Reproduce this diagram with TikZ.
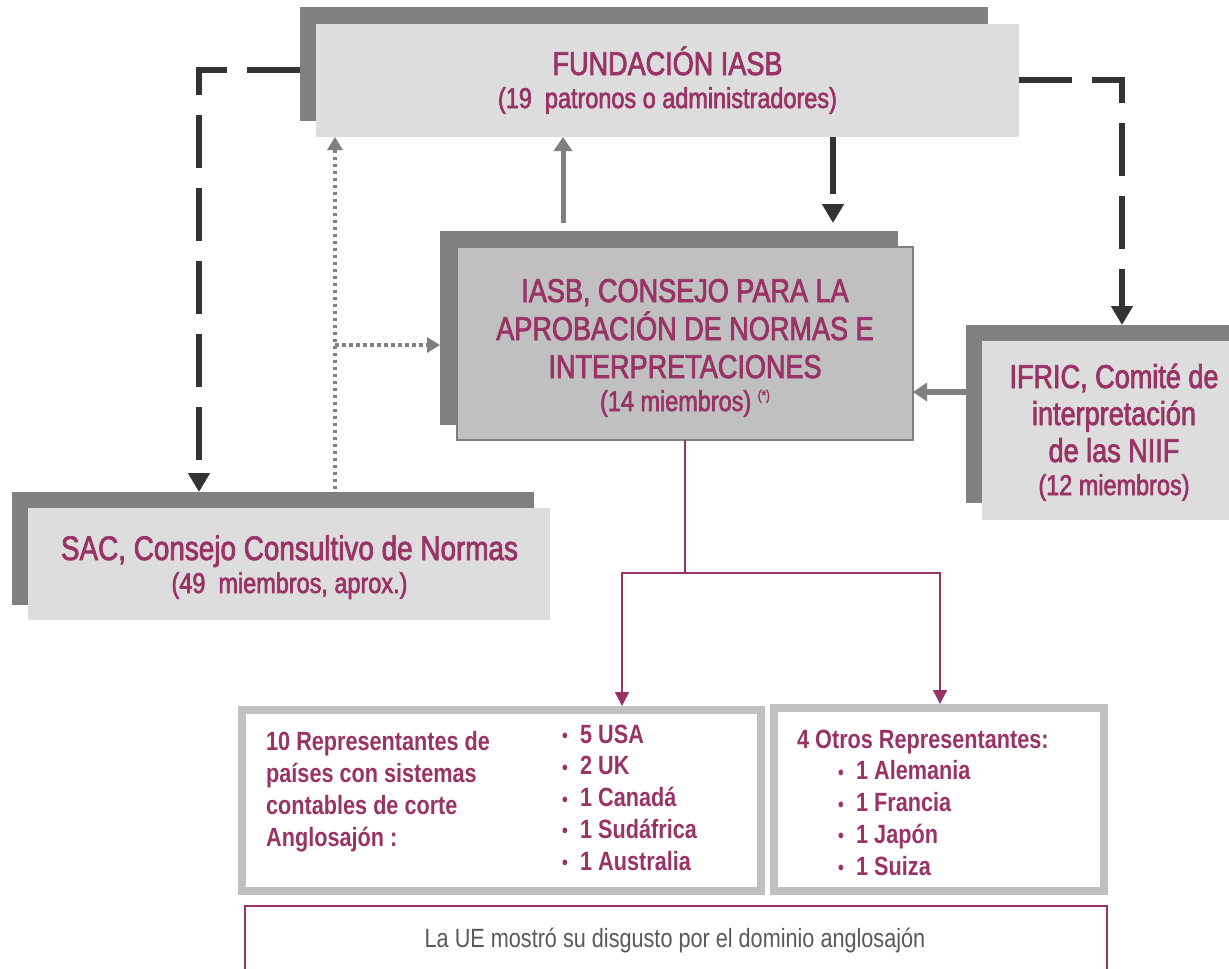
\documentclass[tikz,border=0pt]{standalone}
\usepackage{fontspec}
\setmainfont{Liberation Sans}[FakeStretch=0.82]
\newfontfamily\regfont{Liberation Sans}[FakeStretch=0.82, FakeBold=2.2]
\usetikzlibrary{arrows.meta,calc}
\definecolor{plum}{HTML}{993366}
\definecolor{shadowgray}{HTML}{808080}
\definecolor{lightbox}{HTML}{DDDDDD}
\definecolor{midbox}{HTML}{C0C0C0}
\definecolor{darkline}{HTML}{333333}
\definecolor{notegray}{HTML}{595959}
\newcommand\subsize{\fontsize{28.6}{33}\selectfont}
\newcommand\blt{\makebox[18pt][l]{\fontsize{20}{20}\selectfont\raisebox{0.5pt}{•}}}
\begin{document}
\begin{tikzpicture}[x=1pt,y=-1pt,
  shadowrect/.style={fill=shadowgray, draw=none, inner sep=0pt, outer sep=0pt, anchor=north west},
  lightrect/.style={fill=lightbox, draw=none, inner sep=0pt, outer sep=0pt, anchor=north west},
  midrect/.style={lightrect, fill=midbox, draw=shadowgray, line width=2.5pt},
  boxtext/.style={text=plum, align=center, inner sep=0pt, anchor=base},
  repbox/.style={draw=midbox, fill=white, line width=8pt, inner sep=0pt, outer sep=4pt},
  notebox/.style={draw=plum, fill=white, line width=2.5pt, inner sep=0pt, outer sep=0pt, anchor=north west},
  bigdash/.style={draw=darkline, line width=6pt, dash pattern=on 53pt off 20pt, -{Triangle[width=21pt,length=19pt]}},
  grayarrow/.style={draw=shadowgray, line width=5pt, -{Triangle[width=18pt,length=14pt]}},
  dotarrow/.style={draw=shadowgray, line width=3.5pt, dash pattern=on 3.5pt off 3.5pt, -{Triangle[width=15pt,length=13pt]}},
  plumarrow/.style={draw=plum, line width=1.5pt, -{Triangle[width=14pt,length=14pt]}},
  plumline/.style={draw=plum, line width=1.5pt},
  listtext/.style={text=plum, font=\bfseries\fontsize{26.4}{31.7}\selectfont, align=left, inner sep=0pt, anchor=base west}
]
\useasboundingbox (0,0) rectangle (1229,969);
\clip (0,0) rectangle (1229,969);
\fill[white] (0,0) rectangle (1229,969);

% FUNDACION
\node[shadowrect, minimum width=688pt, minimum height=114pt] (fundS) at (300,7) {};
\node[lightrect, minimum width=703pt, minimum height=113pt] (fund) at (316,24) {};
\node[boxtext, font=\regfont\fontsize{33}{33}\selectfont] (fundtext) at (667.5,108)
  {FUNDACIÓN IASB\\{\subsize (19~~patronos o administradores)}};

% IASB
\node[shadowrect, minimum width=458pt, minimum height=194pt] (iasbS) at (440,231) {};
\node[midrect, minimum width=456pt, minimum height=193pt] (iasb) at (457,247) {};
\node[boxtext, font=\regfont\fontsize{33}{38}\selectfont] (iasbtext) at (685,411)
  {IASB, CONSEJO PARA LA\\APROBACIÓN DE NORMAS E\\INTERPRETACIONES\\[-5pt]
   {\subsize (14 miembros) {\fontsize{14}{14}\selectfont\raisebox{11pt}{(*)}}}};

% IFRIC
\node[shadowrect, minimum width=270pt, minimum height=178pt] (ifricS) at (966,325) {};
\node[lightrect, minimum width=260pt, minimum height=179pt] (ifric) at (982,341) {};
\node[boxtext, font=\regfont\fontsize{33}{37}\selectfont] (ifrictext) at (1114,495)
  {IFRIC, Comité de\\interpretación\\de las NIIF\\[-4pt]{\subsize (12 miembros)}};

% SAC
\node[shadowrect, minimum width=522pt, minimum height=113pt] (sacS) at (12,492) {};
\node[lightrect, minimum width=522pt, minimum height=112pt] (sac) at (28,508) {};
\node[boxtext, font=\regfont\fontsize{33}{33}\selectfont] (sactext) at (289.5,593)
  {{\fontsize{34}{33}\selectfont SAC, Consejo Consultivo de Normas}\\{\subsize (49~~miembros, aprox.)}};

% connectors
\coordinate (lcorner) at (199,70);
\coordinate (rcorner) at (1122,80);
\draw[bigdash] (fundS.west |- lcorner) -- (lcorner) -- (lcorner |- sacS.north);
\draw[bigdash] (fund.east |- rcorner) -- (rcorner) -- (rcorner |- ifricS.north);
\coordinate (dcol) at (833,0);
\draw[bigdash, dash pattern=on 57pt off 30pt, shorten >=8pt] (fund.south -| dcol) -- (iasbS.north -| dcol);
\coordinate (gcol) at (563,0);
\draw[grayarrow, shorten <=8pt] (iasbS.north -| gcol) -- (fund.south -| gcol);
\coordinate (dotcol) at (335,0);
\coordinate (dotj) at (335,345);
\draw[dotarrow, shorten <=3pt] (sacS.north -| dotcol) -- (fund.south -| dotcol);
\draw[dotarrow] (dotj) -- (iasbS.west |- dotj);
\coordinate (irow) at (0,392);
\draw[grayarrow, line width=6pt] (ifricS.west |- irow) -- (iasb.east |- irow);

% representatives
\node[repbox, minimum width=519pt, minimum height=181pt] (anglo) at (501.5,800.5) {};
\node[repbox, minimum width=330pt, minimum height=183pt] (otros) at (939,799.5) {};
\coordinate (pjoin) at (685,573);
\coordinate (pl) at (622,573);
\coordinate (pr) at (940,573);
\draw[plumline] (iasb.south -| pjoin) -- (pjoin);
\draw[plumarrow] (pjoin) -- (pl) -- (pl |- anglo.north);
\draw[plumarrow] (pjoin) -- (pr) -- (pr |- otros.north);

\node[listtext] (anglotext) at (266,846) {10 Representantes de\\países con sistemas\\contables de corte\\Anglosajón :};
\node[listtext] (anglolist) at (562,870) {\blt 5 USA\\\blt 2 UK\\\blt 1 Canadá\\\blt 1 Sudáfrica\\\blt 1 Australia};
\node[listtext] (otrostext) at (797,748) {4 Otros Representantes:};
\node[listtext] (otroslist) at (838,875) {\blt 1 Alemania\\\blt 1 Francia\\\blt 1 Japón\\\blt 1 Suiza};

% note
\node[notebox, minimum width=862pt, minimum height=100pt] (ue) at (245,906) {};
\node[text=notegray, font=\fontsize{26.4}{30}\selectfont, inner sep=0pt, anchor=base] (uetext) at (675,947)
  {La UE mostró su disgusto por el dominio anglosajón};
\end{tikzpicture}
\end{document}
